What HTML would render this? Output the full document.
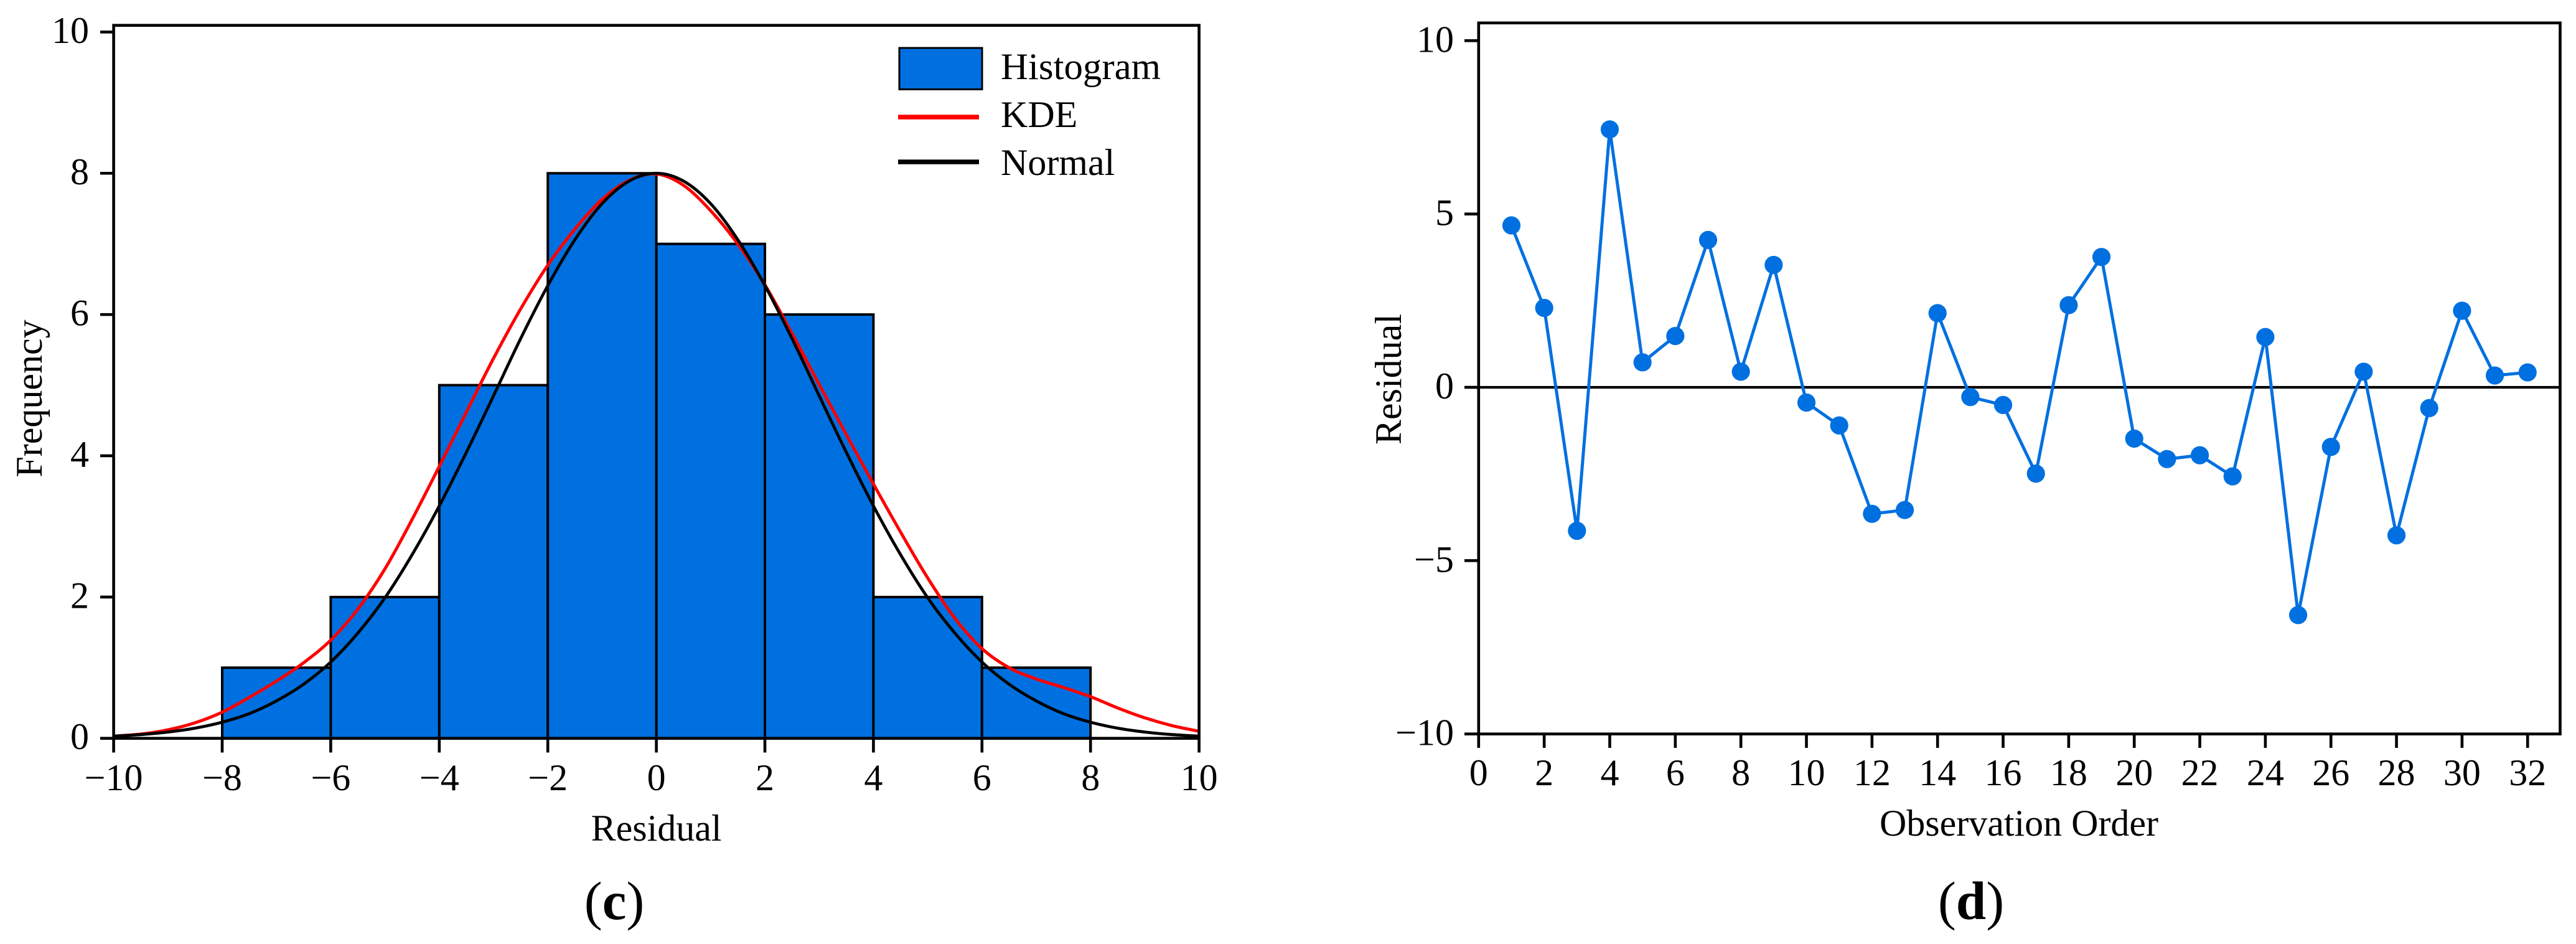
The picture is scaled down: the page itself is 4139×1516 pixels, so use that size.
<!DOCTYPE html>
<html lang="en">
<head>
<meta charset="utf-8">
<title>Residual histogram and residuals versus observation order</title>
<style>
html,body{margin:0;padding:0;background:#fff;width:4139px;height:1516px;overflow:hidden}
svg{display:block}
text{font-family:"Liberation Serif",serif;font-size:60px;fill:#000}
</style>
</head>
<body>
<svg id="figure" xmlns="http://www.w3.org/2000/svg" width="4139" height="1516" viewBox="0 0 4139 1516">
  <rect x="0" y="0" width="4139" height="1516" fill="#fff"/>
  <g id="panelC"></g>
  <g id="panelD"></g>

  <text x="1054.6" y="1350" text-anchor="middle">Residual</text>
  <text transform="translate(67,640) rotate(-90)" text-anchor="middle">Frequency</text>
  <text x="987" y="1476" text-anchor="middle" style="font-size:87px">(<tspan font-weight="bold">c</tspan>)</text>

  <g>
    <rect x="1445" y="77" width="133" height="66.5" fill="#0070E0" stroke="#000" stroke-width="3"/>
    <text x="1608" y="127" textLength="257" lengthAdjust="spacingAndGlyphs">Histogram</text>
    <line x1="1443" y1="188" x2="1573" y2="188" stroke="#f00" stroke-width="7.5"/>
    <text x="1608" y="204">KDE</text>
    <line x1="1443" y1="260" x2="1573" y2="260" stroke="#000" stroke-width="7.5"/>
    <text x="1608" y="281">Normal</text>
  </g>

  <text x="3244" y="1342" text-anchor="middle" textLength="448" lengthAdjust="spacingAndGlyphs">Observation Order</text>
  <text transform="translate(2251,609) rotate(-90)" text-anchor="middle">Residual</text>
  <text x="3167" y="1476" text-anchor="middle" style="font-size:87px">(<tspan font-weight="bold">d</tspan>)</text>
</svg>

<script>
// Panel (c) data
const binEdges = [-8, -6, -4, -2, 0, 2, 4, 6, 8];
const binCounts = [1, 2, 5, 8, 7, 6, 2, 1];
const curveX = [-10,-9.5,-9,-8.5,-8,-7.5,-7,-6.5,-6,-5.5,-5,-4.5,-4,-3.5,-3,-2.5,-2,-1.5,-1,-0.5,0,0.5,1,1.5,2,2.5,3,3.5,4,4.5,5,5.5,6,6.5,7,7.5,8,8.5,9,9.5,10];
const kdeValues = [0.03,0.06,0.12,0.22,0.37,0.58,0.81,1.07,1.39,1.83,2.40,3.10,3.85,4.62,5.38,6.08,6.70,7.21,7.63,7.90,7.99,7.83,7.47,7.00,6.42,5.73,5.01,4.30,3.60,2.92,2.27,1.70,1.27,1.00,0.84,0.72,0.59,0.43,0.29,0.18,0.10];
const normalValues = [0.031,0.053,0.089,0.144,0.228,0.35,0.53,0.766,1.08,1.49,1.99,2.60,3.29,4.05,4.85,5.66,6.41,7.06,7.57,7.89,8,7.89,7.57,7.06,6.41,5.66,4.85,4.05,3.29,2.60,1.99,1.49,1.08,0.766,0.53,0.35,0.228,0.144,0.089,0.053,0.031];
const histXTicks = [-10, -8, -6, -4, -2, 0, 2, 4, 6, 8, 10];
const histYTicks = [0, 2, 4, 6, 8, 10];

// Panel (d) data
const observationOrder = [1,2,3,4,5,6,7,8,9,10,11,12,13,14,15,16,17,18,19,20,21,22,23,24,25,26,27,28,29,30,31,32];
const residualValues = [4.67,2.29,-4.14,7.44,0.72,1.48,4.25,0.45,3.53,-0.44,-1.10,-3.65,-3.54,2.14,-0.28,-0.51,-2.49,2.37,3.76,-1.48,-2.07,-1.96,-2.57,1.45,-6.57,-1.72,0.45,-4.27,-0.60,2.21,0.34,0.43];
const orderXTicks = [0,2,4,6,8,10,12,14,16,18,20,22,24,26,28,30,32];
const orderYTicks = [-10,-5,0,5,10];

const SVGNS = 'http://www.w3.org/2000/svg';
const BLUE = '#0070E0';

function mk(parent, tag, attrs) {
  const el = document.createElementNS(SVGNS, tag);
  for (const k in attrs) el.setAttribute(k, attrs[k]);
  parent.appendChild(el);
  return el;
}
function fmt(v) { return v < 0 ? '\u2212' + Math.abs(v) : String(v); }

// Axis functions
const histX = v => 1054.6 + 87.2 * v;
const histY = v => 1185.7 - 113.43 * v;
const orderX = v => 2375.8 + 52.67 * v;
const orderY = v => 622 - 55.67 * v;

function smoothPath(xs, ys) {
  let d = 'M' + xs[0].toFixed(2) + ' ' + ys[0].toFixed(2);
  for (let i = 0; i < xs.length - 1; i++) {
    const x0 = xs[Math.max(i - 1, 0)], y0 = ys[Math.max(i - 1, 0)];
    const x1 = xs[i], y1 = ys[i], x2 = xs[i + 1], y2 = ys[i + 1];
    const x3 = xs[Math.min(i + 2, xs.length - 1)], y3 = ys[Math.min(i + 2, xs.length - 1)];
    const c1x = x1 + (x2 - x0) / 6, c1y = y1 + (y2 - y0) / 6;
    const c2x = x2 - (x3 - x1) / 6, c2y = y2 - (y3 - y1) / 6;
    d += 'C' + c1x.toFixed(2) + ' ' + c1y.toFixed(2) + ' ' + c2x.toFixed(2) + ' ' + c2y.toFixed(2) + ' ' + x2.toFixed(2) + ' ' + y2.toFixed(2);
  }
  return d;
}

// ---------- Panel (c) ----------
const pc = document.getElementById('panelC');
const cL = histX(-10), cR = histX(10), cB = histY(0), cT = 40.7;

binCounts.forEach((count, i) => {
  const x0 = histX(binEdges[i]), x1 = histX(binEdges[i + 1]);
  const el = mk(pc, 'rect', {x: x0, y: histY(count), width: x1 - x0, height: cB - histY(count), fill: BLUE, stroke: '#000', 'stroke-width': 4});
  
  
});

const kdeLine = mk(pc, 'path', {d: smoothPath(curveX.map(histX), kdeValues.map(histY)), fill: 'none', stroke: '#f00', 'stroke-width': 5});



const normalLine = mk(pc, 'path', {d: smoothPath(curveX.map(histX), normalValues.map(histY)), fill: 'none', stroke: '#000', 'stroke-width': 4.8});



const cFrame = mk(pc, 'path', {d: 'M' + cL + ' ' + cB + 'V' + cT + 'H' + cR + 'V' + cB + 'H' + cL, fill: 'none', stroke: '#000', 'stroke-width': 4.6});



histYTicks.forEach(v => {
  const y = histY(v);
  const t = mk(pc, 'line', {x1: 161, y1: y, x2: cL, y2: y, stroke: '#000', 'stroke-width': 4.6});
  
  
  const l = mk(pc, 'text', {x: 143, y: y + 17.5, 'text-anchor': 'end'});
  
  
  l.textContent = fmt(v);
});
histXTicks.forEach(v => {
  const x = histX(v);
  const t = mk(pc, 'line', {x1: x, y1: cB, x2: x, y2: 1208.5, stroke: '#000', 'stroke-width': 4.6});
  
  
  const l = mk(pc, 'text', {x: x, y: 1269, 'text-anchor': 'middle'});
  
  
  l.textContent = fmt(v);
});

// ---------- Panel (d) ----------
const pd = document.getElementById('panelD');
const dL = orderX(0), dR = 4113.5, dB = orderY(-10), dT = 36.8;

const dFrame = mk(pd, 'rect', {x: dL, y: dT, width: dR - dL, height: dB - dT, fill: 'none', stroke: '#000', 'stroke-width': 4.6});



const zeroLine = mk(pd, 'line', {x1: 2353, y1: orderY(0), x2: dR, y2: orderY(0), stroke: '#000', 'stroke-width': 4.2});



orderYTicks.forEach(v => {
  const y = orderY(v);
  const t = mk(pd, 'line', {x1: 2353, y1: y, x2: dL, y2: y, stroke: '#000', 'stroke-width': 4.6});
  
  
  const l = mk(pd, 'text', {x: 2336, y: y + 18, 'text-anchor': 'end'});
  
  
  l.textContent = fmt(v);
});
orderXTicks.forEach(v => {
  const x = orderX(v);
  const t = mk(pd, 'line', {x1: x, y1: dB, x2: x, y2: 1201, stroke: '#000', 'stroke-width': 4.6});
  
  
  const l = mk(pd, 'text', {x: x, y: 1261, 'text-anchor': 'middle'});
  
  
  l.textContent = fmt(v);
});

const residualLine = mk(pd, 'polyline', {points: observationOrder.map((o, i) => orderX(o).toFixed(2) + ',' + orderY(residualValues[i]).toFixed(2)).join(' '), fill: 'none', stroke: BLUE, 'stroke-width': 5});



observationOrder.forEach((o, i) => {
  const c = mk(pd, 'circle', {cx: orderX(o), cy: orderY(residualValues[i]), r: 14.6, fill: BLUE});
  
  
});
</script>
</body>
</html>
